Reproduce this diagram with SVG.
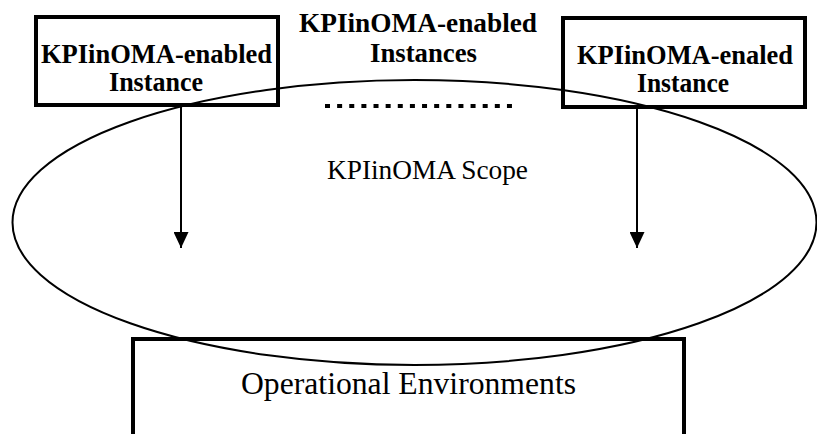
<svg xmlns="http://www.w3.org/2000/svg" width="817" height="434" viewBox="0 0 817 434">
<defs>
<style>
.box{fill:#fff;stroke:#000;stroke-width:4}
.b{font-family:"Liberation Serif","Times New Roman",serif;font-weight:bold;font-size:28px;fill:#000}
.r{font-family:"Liberation Serif","Times New Roman",serif;font-size:28px;fill:#000}
.big{font-size:32px}
.sm{font-size:27px}
.conn{stroke:#000;stroke-width:2;fill:none}
</style>
<marker id="ah" viewBox="0 0 16 15" refX="16" refY="7.5" markerWidth="16" markerHeight="15" markerUnits="userSpaceOnUse" orient="auto">
<path d="M0,0 L16,7.5 L0,15 Z" fill="#000"/>
</marker>
</defs>
<rect width="817" height="434" fill="#fff"/>
<g id="environments">
<rect class="box" x="133" y="339" width="551" height="100"/>
<text class="r big" x="408.5" y="394" text-anchor="middle" textLength="335" lengthAdjust="spacingAndGlyphs">Operational Environments</text>
</g>
<g id="instance-left">
<rect class="box" x="36" y="17" width="242" height="88"/>
<text class="b" x="156.5" y="63" text-anchor="middle" textLength="231" lengthAdjust="spacingAndGlyphs">KPIinOMA-enabled</text>
<text class="b" x="156" y="91" text-anchor="middle" textLength="94" lengthAdjust="spacingAndGlyphs">Instance</text>
</g>
<g id="instance-right">
<rect class="box" x="563" y="18" width="242" height="89"/>
<text class="b sm" x="685" y="64" text-anchor="middle" textLength="216" lengthAdjust="spacingAndGlyphs">KPIinOMA-enaled</text>
<text class="b sm" x="683" y="92" text-anchor="middle" textLength="92" lengthAdjust="spacingAndGlyphs">Instance</text>
</g>
<g id="scope">
<ellipse cx="414.5" cy="222.5" rx="402" ry="142.5" fill="none" stroke="#000" stroke-width="2"/>
<text class="r" x="427.5" y="179" text-anchor="middle" textLength="201" lengthAdjust="spacingAndGlyphs">KPIinOMA Scope</text>
</g>
<g id="instances-label">
<text class="b" x="418" y="32" text-anchor="middle" textLength="238" lengthAdjust="spacingAndGlyphs">KPIinOMA-enabled</text>
<text class="b" x="423.5" y="62" text-anchor="middle" textLength="107" lengthAdjust="spacingAndGlyphs">Instances</text>
<line x1="325" y1="106" x2="512" y2="106" stroke="#000" stroke-width="4" stroke-dasharray="5 7.13"/>
</g>
<g id="connectors">
<line class="conn" x1="181" y1="105" x2="181" y2="248" marker-end="url(#ah)"/>
<line class="conn" x1="637" y1="107" x2="637" y2="248" marker-end="url(#ah)"/>
</g>
</svg>
